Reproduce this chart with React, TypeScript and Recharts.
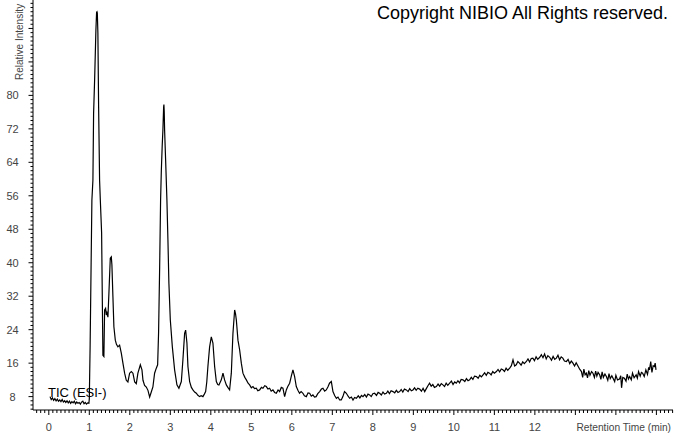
import React from 'react';
import { LineChart, Line, XAxis, YAxis } from 'recharts';

// Retention time (min)
const retentionTime = [
  0.03, 0.06, 0.09, 0.12, 0.15, 0.18, 0.21, 0.24, 0.27, 0.30, 0.33, 0.36, 0.39, 0.42, 0.45, 0.48, 0.51, 0.54, 0.57, 0.60,
  0.63, 0.66, 0.69, 0.72, 0.75, 0.78, 0.81, 0.84, 0.87, 0.90, 0.93, 0.96, 0.99,
  1.00, 1.02, 1.045, 1.064, 1.089, 1.106, 1.131, 1.163, 1.18, 1.19, 1.198, 1.212, 1.23, 1.254, 1.272, 1.304, 1.336,
  1.36, 1.378, 1.402, 1.42, 1.435, 1.46, 1.484, 1.518, 1.543, 1.558, 1.583, 1.607, 1.642, 1.67, 1.706, 1.748, 1.79, 1.83,
  1.872, 1.913, 1.953, 1.995, 2.037, 2.077, 2.12, 2.16, 2.2, 2.26, 2.3, 2.325, 2.365, 2.407, 2.448, 2.49, 2.53, 2.57,
  2.612, 2.654, 2.687, 2.71, 2.737, 2.76, 2.778, 2.80, 2.817, 2.835, 2.842, 2.85, 2.859, 2.884, 2.916, 2.941, 2.965,
  3.0, 3.05, 3.106, 3.163, 3.212, 3.272, 3.311, 3.353, 3.378, 3.41, 3.435, 3.477, 3.52, 3.558, 3.6, 3.642, 3.68, 3.723,
  3.76, 3.805, 3.84, 3.872, 3.9, 3.928, 3.97, 4.012, 4.052, 4.094, 4.136, 4.17, 4.2, 4.259, 4.3, 4.34, 4.383, 4.42, 4.464,
  4.506, 4.546, 4.588, 4.61, 4.63, 4.67, 4.711, 4.753, 4.793, 4.84, 4.877, 4.92, 4.958, 5.0, 5.04, 5.08, 5.123, 5.16,
  5.205, 5.25, 5.287, 5.33, 5.37, 5.41, 5.452, 5.49, 5.533, 5.575, 5.617, 5.66, 5.699, 5.74, 5.78, 5.822, 5.864, 5.9,
  5.946, 5.99, 6.027, 6.069, 6.11, 6.15, 6.19, 6.23, 6.274, 6.31, 6.358, 6.4, 6.44, 6.48, 6.52, 6.56, 6.6, 6.64, 6.687,
  6.73, 6.768, 6.81, 6.85, 6.89, 6.93, 6.975, 7.015, 7.06, 7.1, 7.14, 7.18, 7.22, 7.26, 7.3, 7.346, 7.39, 7.427, 7.47,
  7.51, 7.55, 7.593, 7.64, 7.68, 7.72, 7.756, 7.8, 7.84, 7.88, 7.92, 7.96, 8.0, 8.044, 8.09, 8.13, 8.168, 8.21, 8.25,
  8.29, 8.333, 8.37, 8.41, 8.45, 8.496, 8.54, 8.58, 8.62, 8.662, 8.7, 8.74, 8.78, 8.827, 8.87, 8.91, 8.95, 8.99, 9.03,
  9.07, 9.11, 9.156, 9.2, 9.24, 9.28, 9.32, 9.36, 9.4, 9.44, 9.48, 9.52, 9.568, 9.61, 9.65, 9.69, 9.73, 9.77, 9.81, 9.85,
  9.896, 9.94, 9.98, 10.02, 10.06, 10.1, 10.14, 10.18, 10.225, 10.27, 10.31, 10.35, 10.39, 10.43, 10.47, 10.51, 10.556,
  10.6, 10.64, 10.68, 10.72, 10.76, 10.8, 10.84, 10.88, 10.92, 10.96, 11.0, 11.05, 11.09, 11.13, 11.17, 11.21, 11.25,
  11.29, 11.33, 11.378, 11.42, 11.46, 11.5, 11.54, 11.58, 11.62, 11.66, 11.7, 11.74, 11.79, 11.83, 11.87, 11.91, 11.95,
  11.99, 12.03, 12.07, 12.12, 12.16, 12.2, 12.24, 12.28, 12.32, 12.366, 12.41, 12.45, 12.49, 12.53, 12.57, 12.61, 12.65,
  12.69, 12.73, 12.778, 12.82, 12.86, 12.9, 12.94, 12.98, 13.02, 13.07, 13.11, 13.15, 13.18, 13.21, 13.24, 13.27, 13.3,
  13.33, 13.36, 13.4, 13.435, 13.47, 13.5, 13.53, 13.56, 13.6, 13.63, 13.66, 13.69, 13.73, 13.765, 13.8, 13.83, 13.86,
  13.9, 13.93, 13.97, 14.0, 14.04, 14.09, 14.12, 14.14, 14.17, 14.21, 14.25, 14.28, 14.31, 14.34, 14.38, 14.41, 14.45,
  14.5, 14.53, 14.56, 14.6, 14.63, 14.66, 14.7, 14.74, 14.78, 14.81, 14.83, 14.86, 14.89, 14.92, 14.95, 14.97, 14.99,
];

// Relative intensity
const relIntensity = [
  8.0, 7.3, 7.7, 7.1, 7.5, 7.0, 7.4, 6.9, 7.2, 6.8, 7.3, 6.7, 7.0, 6.6, 7.0, 6.5, 6.9, 6.4, 6.8, 6.5,
  6.9, 6.3, 6.7, 6.4, 6.6, 6.2, 6.7, 6.9, 6.3, 6.6, 6.2, 6.5, 6.4,
  7.5, 20, 40, 55, 59.7, 75.7, 83.6, 95.6, 99.9, 100, 99.7, 94.9, 77.2, 59.7, 55, 47.1, 17.9,
  17.6, 28.7, 29.1, 27.5, 28.0, 27.0, 32.7, 41.1, 41.4, 39.5, 31.9, 24.7, 21.5, 20.5, 19.9, 20.3, 18.4, 16.0,
  13.6, 11.9, 11.5, 13.6, 14.0, 13.6, 11.5, 11.1, 13.6, 15.6, 14.4, 11.9, 10.7, 10.3, 9.5, 7.9, 9.1, 10.3,
  13.6, 14.8, 15.6, 23.2, 39.1, 55, 62, 68, 71.7, 77.2, 77.8, 76, 71.7, 64.6, 55, 45.5, 35.1,
  26.3, 19.9, 14.4, 10.8, 10.0, 11.6, 16.8, 23.1, 23.9, 20.8, 15.2, 11.6, 10.2, 9.6, 9.1, 8.8, 8.3, 8.0,
  8.2, 8.0, 8.6, 9.2, 11.5, 15.2, 19.9, 22.3, 20.8, 15.2, 11.6, 10.9, 10.8, 12.0, 13.6, 12.0, 10.8, 10.2, 9.6,
  13.6, 23.1, 28.7, 27.8, 26.3, 21.5, 19.2, 16.0, 13.6, 12.6, 12.0, 11.2, 10.8, 10.1, 10.4, 9.9, 10.0, 9.4,
  9.6, 10.2, 10.0, 10.6, 10.4, 9.8, 10.0, 9.3, 9.6, 9.0, 8.8, 9.6, 9.2, 10.2, 10.0, 8.0, 9.6, 10.4,
  11.2, 13.0, 14.4, 12.8, 10.4, 9.5, 8.8, 9.2, 8.8, 8.2, 8.0, 8.9, 8.8, 8.1, 8.4, 7.9, 8.0, 8.7, 9.2,
  9.8, 10.0, 9.3, 9.6, 10.3, 11.2, 11.6, 9.2, 8.2, 7.6, 7.9, 7.2, 7.2, 8.0, 9.2, 8.8, 8.1, 7.6, 7.9,
  7.2, 7.8, 7.6, 8.2, 7.7, 8.3, 8.0, 8.5, 7.9, 8.6, 8.4, 8.0, 8.7, 8.8, 8.3, 9.0, 8.8, 8.4, 9.1,
  8.6, 8.8, 9.3, 8.7, 9.4, 9.2, 8.9, 9.5, 9.0, 9.2, 9.7, 9.1, 9.8, 9.6, 9.2, 9.9, 9.4, 9.6, 10.1,
  9.5, 10.0, 9.8, 9.3, 10.0, 9.2, 9.9, 10.6, 11.2, 10.5, 10.9, 10.2, 10.4, 11.0, 10.5, 11.1, 10.8, 10.4, 11.2, 10.7,
  11.2, 11.7, 10.9, 11.5, 11.2, 11.8, 11.3, 12.1, 12.0, 11.6, 12.3, 11.8, 12.0, 12.6, 12.1, 12.9, 12.8,
  12.4, 13.1, 12.7, 13.2, 13.7, 13.1, 13.8, 13.6, 13.2, 14.0, 13.6, 14.0, 14.5, 13.9, 14.6, 14.4, 14.0,
  14.8, 14.3, 14.8, 15.4, 16.8, 15.3, 15.6, 16.4, 16.0, 15.5, 16.3, 15.9, 16.4, 17.0, 16.3, 17.1, 17.2,
  16.6, 17.5, 16.9, 17.4, 18.0, 17.3, 18.2, 17.0, 17.8, 17.4, 16.7, 17.6, 16.9, 17.2, 17.9, 16.8, 17.5,
  17.2, 16.5, 16.4, 16.9, 15.9, 16.5, 16.0, 15.3, 16.1, 15.2, 14.5, 14.0, 12.6, 14.6, 13.2, 13.6, 12.5,
  14.2, 13.1, 14.0, 13.6, 12.6, 14.1, 12.9, 13.8, 13.2, 12.1, 13.9, 12.6, 13.4, 12.8, 11.9, 13.5, 12.3,
  13.0, 12.4, 11.6, 13.1, 12.0, 12.2, 13.0, 10.1, 12.6, 12.4, 11.7, 13.4, 12.2, 12.8, 12.0, 13.6, 12.5,
  13.2, 12.4, 14.0, 12.9, 13.8, 13.6, 12.8, 14.4, 13.3, 15.0, 14.4, 16.4, 13.8, 15.4, 15.2, 16.0, 14.4,
];

const xTickLabels = ['0', '1', '2', '3', '4', '5', '6', '7', '8', '9', '10', '11', '12'];
const yTickLabels = ['8', '16', '24', '32', '40', '48', '56', '64', '72', '80'];
const xAxisTitle = 'Retention Time (min)';
const yAxisTitle = 'Relative Intensity';
const traceLabel = 'TIC (ESI-)';
const copyrightText = 'Copyright NIBIO All Rights reserved.';

const X_DOMAIN: [number, number] = [-0.39, 15.41];
const Y_DOMAIN: [number, number] = [4.8, 102.8];

const xTicks = Array.from({ length: 158 }, (_, i) => Math.round((-0.3 + i * 0.1) * 10) / 10);
const yTicks = Array.from({ length: 98 }, (_, i) => 5 + i);

const data = retentionTime.map((t, i) => ({ t, v: relIntensity[i] }));

const FONT = '"Liberation Sans", Arial, sans-serif';
const LABEL_COLOR = '#444';

const XTick = (props: any) => {
  const { x, y, payload } = props;
  const val = payload.value as number;
  const idx = Math.round(val);
  const major = Math.abs(val - idx) < 1e-6;
  const label = major && idx >= 0 && idx < xTickLabels.length ? xTickLabels[idx] : null;
  return (
    <g>
      <line x1={x} x2={x} y1={y} y2={y + (major ? 5 : 3)} stroke="#000" strokeWidth={1} />
      {label !== null && (
        <text x={x} y={y + 21} textAnchor="middle" fontFamily={FONT} fontSize={11} fill={LABEL_COLOR}>
          {label}
        </text>
      )}
    </g>
  );
};

const YTick = (props: any) => {
  const { x, y, payload } = props;
  const val = payload.value as number;
  const major = val % 8 === 0;
  const li = val / 8 - 1;
  const label = major && li >= 0 && li < yTickLabels.length ? yTickLabels[li] : null;
  return (
    <g>
      <line x1={x - (major ? 4.5 : 2.5)} x2={x} y1={y} y2={y} stroke="#000" strokeWidth={1} />
      {label !== null && (
        <text x={12.5} y={y + 4} textAnchor="middle" fontFamily={FONT} fontSize={11} fill={LABEL_COLOR}>
          {label}
        </text>
      )}
    </g>
  );
};

export default function App() {
  return (
    <div style={{ position: 'absolute', left: 0, top: 0, width: 674, height: 434, background: '#fff' }}>
      <LineChart width={674} height={434} data={data} margin={{ top: 0, right: 1, bottom: 0, left: 0 }}>
        <XAxis
          dataKey="t"
          type="number"
          domain={X_DOMAIN}
          allowDataOverflow
          ticks={xTicks}
          interval={0}
          tickSize={0}
          tickMargin={0}
          tickLine={false}
          tick={<XTick />}
          height={24}
          axisLine={{ stroke: '#000', strokeWidth: 1 }}
        />
        <YAxis
          dataKey="v"
          type="number"
          domain={Y_DOMAIN}
          allowDataOverflow
          ticks={yTicks}
          interval={0}
          tickSize={0}
          tickMargin={0}
          tickLine={false}
          tick={<YTick />}
          width={33}
          axisLine={{ stroke: '#000', strokeWidth: 1 }}
        />
        <Line
          dataKey="v"
          type="linear"
          stroke="#000"
          strokeWidth={1.2}
          dot={false}
          activeDot={false}
          isAnimationActive={false}
        />
        <text x={22.5} y={80} transform="rotate(-90, 22.5, 80)" fontFamily={FONT} fontSize={10} fill={LABEL_COLOR}>
          {yAxisTitle}
        </text>
        <text x={671} y={431} textAnchor="end" fontFamily={FONT} fontSize={10.2} fill={LABEL_COLOR}>
          {xAxisTitle}
        </text>
        <text x={48} y={397} fontFamily={FONT} fontSize={13} fill="#000">
          {traceLabel}
        </text>
        <text x={377} y={19} fontFamily={FONT} fontSize={18} fill="#000">
          {copyrightText}
        </text>
      </LineChart>
    </div>
  );
}
